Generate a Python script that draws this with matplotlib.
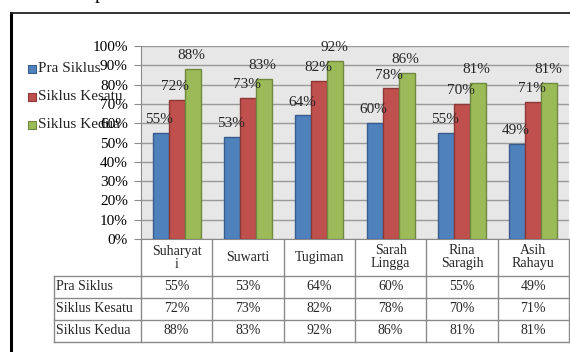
import numpy as np
import matplotlib
matplotlib.use('Agg')
import matplotlib.pyplot as plt
from matplotlib.transforms import blended_transform_factory
from matplotlib.patches import Rectangle

plt.rcParams['font.family'] = ['Liberation Serif', 'DejaVu Serif']

# data
nama = ['Suharyat\ni', 'Suwarti', 'Tugiman', 'Sarah\nLingga', 'Rina\nSaragih', 'Asih\nRahayu']
seri = ['Pra Siklus', 'Siklus Kesatu', 'Siklus Kedua']
pra = [55, 53, 64, 60, 55, 49]
kesatu = [72, 73, 82, 78, 70, 71]
kedua = [88, 83, 92, 86, 81, 81]
yticks = [0, 10, 20, 30, 40, 50, 60, 70, 80, 90, 100]

warna = ['#4f81bd', '#c0504d', '#9bbb59']
tepi = ['#385d8a', '#8c3836', '#71893f']

W, H = 570, 352
fig = plt.figure(figsize=(W/100, H/100), dpi=100)

# overlay in pixel coords (y downwards)
ov = fig.add_axes([0, 0, 1, 1])
ov.set_xlim(0, W); ov.set_ylim(H, 0)
ov.axis('off')

# main plot area
x0, x1, ytop, ybot = 141, 569, 46, 239
ax = fig.add_axes([x0/W, 1 - ybot/H, (x1-x0)/W, (ybot-ytop)/H])
ax.set_facecolor('#e7e7e7')
x = np.arange(len(nama))
lebar = 0.225
data = [pra, kesatu, kedua]
for k, vals in enumerate(data):
    pos = x + (k-1)*lebar
    ax.bar(pos, vals, lebar, color=warna[k], edgecolor=tepi[k], linewidth=1, zorder=3)
    for p, v in zip(pos, vals):
        ax.annotate('%d%%' % v, (p, v), xytext=(-1, 5), textcoords='offset points',
                    ha='center', va='bottom', fontsize=11, color='#262626', zorder=4)

ax.set_xlim(-0.5, len(nama)-0.5)
ax.set_ylim(0, 100)
ax.set_yticks(yticks)
ax.set_yticklabels(['%d%%' % t for t in yticks], fontsize=11)
ax.yaxis.grid(True, color='#9a9a9a', linewidth=1, zorder=0)
ax.set_xticks([])
ax.tick_params(axis='y', length=5, color='#8a8a8a', pad=4.5)
for s in ['top', 'right']:
    ax.spines[s].set_visible(False)
ax.spines['left'].set_color('#8a8a8a')
ax.spines['bottom'].set_color('#8a8a8a')

# table under the chart: x in category units, y in pixels
tr = blended_transform_factory(ax.transData, ov.transData)
garis = dict(color='#8a8a8a', linewidth=1, transform=tr, clip_on=False)
px = 1.0/((x1-x0)/len(nama))
xl = -0.5 - (x0-54)*px
xr = len(nama) - 0.5
baris = [239, 276, 298, 320, 342]
# header row
for i in range(len(nama)+1):
    ov.plot([i-0.5, i-0.5], [baris[0], baris[-1]], **garis)
ov.plot([xl, xl], [baris[1], baris[-1]], **garis)
for yb in baris[1:]:
    ov.plot([xl, xr], [yb, yb], **garis)
for i, n in enumerate(nama):
    ov.text(i, (baris[0]+baris[1])/2, n, ha='center', va='center', fontsize=10,
            linespacing=1.0, transform=tr, color='#262626')
for r, (lab, vals) in enumerate(zip(seri, data)):
    yc = (baris[r+1]+baris[r+2])/2
    ov.text(xl + 2*px, yc, lab, ha='left', va='center', fontsize=10, transform=tr, color='#262626')
    for i, v in enumerate(vals):
        ov.text(i, yc, '%d%%' % v, ha='center', va='center', fontsize=10, transform=tr, color='#262626')

# legend
leg_y = [69, 97, 125]
for k in range(3):
    ov.add_patch(Rectangle((28, leg_y[k]-4), 8, 8, facecolor=warna[k], edgecolor=tepi[k], linewidth=0.8))
    ov.text(38, leg_y[k], seri[k], ha='left', va='center', fontsize=11, color='#262626')

# outer frame
ov.plot([11, 11], [13, H+5], color='black', linewidth=2.2, clip_on=False)
ov.plot([11, W+5], [13, 13], color='#222222', linewidth=1.3, clip_on=False)
ov.text(95, -1, 'p', ha='left', va='baseline', fontsize=14, color='black')

fig.savefig('out.png', dpi=100)
